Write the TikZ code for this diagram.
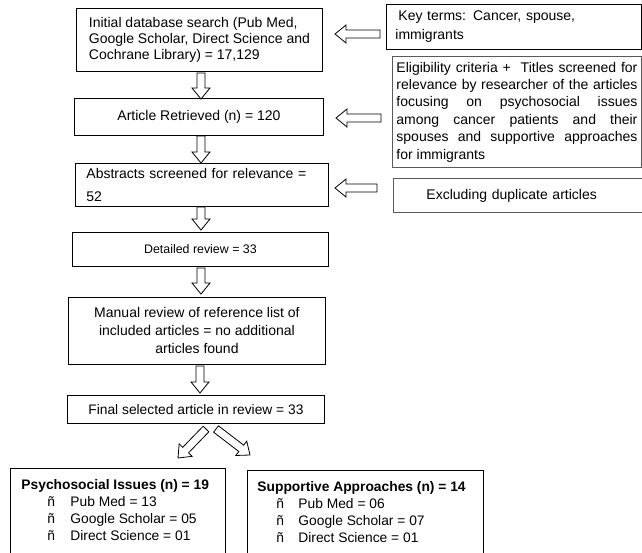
\documentclass[tikz,border=0pt]{standalone}
\usepackage{fontspec}
\setmainfont{Liberation Sans}
\usetikzlibrary{calc}
\tikzset{
  box/.style={draw=black, line width=0.9pt, fill=white, inner sep=0pt, anchor=north west,
    font=\fontsize{14}{16}\selectfont},
  graybox/.style={box, draw=black!65},
  barrow/.style={draw=black, line width=0.8pt, fill=white, line join=miter},
}
\newcommand\blockarr[2]{%
  \coordinate (bap) at ($(#2)!11pt!(#1)$);
  \draw[barrow] ($(#1)!4pt!90:(#2)$) -- ($(bap)!4pt!90:(#2)$) -- ($(bap)!9pt!90:(#2)$)
    -- (#2) -- ($(bap)!9pt!-90:(#2)$) -- ($(bap)!4pt!-90:(#2)$) -- ($(#1)!4pt!-90:(#2)$) -- cycle;}
\begin{document}
\begin{tikzpicture}[x=1pt,y=-1pt]
\useasboundingbox (0,0) rectangle (642,552);
\clip (0,0) rectangle (642,552);

% main column
\node[box, minimum width=246pt, minimum height=63pt, align=left] (b1) at (76,8)
  {Initial database search (Pub Med,\\ Google Scholar, Direct Science and\\ Cochrane Library) = 17,129};
\node[box, minimum width=249pt, minimum height=37pt, align=center] (b2) at (74,98)
  {Article Retrieved (n) = 120};
\node[box, minimum width=253pt, minimum height=43pt, text width=231pt, align=left] (b3) at (75,163)
  {Abstracts screened for relevance =\\[7pt]52};
\node[box, minimum width=256pt, minimum height=34pt, align=center, font=\fontsize{12.4}{15}\selectfont] (b4) at (72,232)
  {Detailed review = 33};
\node[box, minimum width=257pt, minimum height=67pt, align=center, font=\fontsize{14}{18}\selectfont] (b5) at (68,297)
  {Manual review of reference list of\\ included articles = no additional\\ articles found};
\node[box, minimum width=257pt, minimum height=28pt, align=center, font=\fontsize{13.8}{16}\selectfont] (b6) at (67,395)
  {Final selected article in review = 33};

% bottom boxes
\node[box, minimum width=215pt, inner ysep=9pt] (b7) at (10,468)
  {\parbox[c][100pt][t]{193pt}{\fontsize{13.8}{17}\selectfont\strut\textbf{Psychosocial Issues (n) = 19}\\
   \hspace*{26pt}\makebox[23pt][l]{ñ}Pub Med = 13\\
   \hspace*{26pt}\makebox[23pt][l]{ñ}Google Scholar = 05\\
   \hspace*{26pt}\makebox[23pt][l]{ñ}Direct Science = 01}};
\node[box, minimum width=236pt, inner ysep=9pt] (b8) at (247,470)
  {\parbox[c][100pt][t]{216pt}{\fontsize{13.8}{17}\selectfont\strut\textbf{Supportive Approaches (n) = 14}\\
   \hspace*{19pt}\makebox[22pt][l]{ñ}Pub Med = 06\\
   \hspace*{19pt}\makebox[22pt][l]{ñ}Google Scholar = 07\\
   \hspace*{19pt}\makebox[22pt][l]{ñ}Direct Science = 01}};

% right column
\node[box, minimum width=255pt, minimum height=45pt, text width=237pt, align=left, font=\fontsize{14}{19}\selectfont] (k) at (386,4)
  {\hspace*{3pt}Key terms: Cancer, spouse,\\immigrants};
\node[graybox, minimum width=249pt, minimum height=111pt, text width=241pt, align=justify, font=\fontsize{14}{17.4}\selectfont] (e) at (392,56)
  {Eligibility criteria +\ \ Titles screened for\linebreak relevance by researcher of the articles\linebreak focusing on psychosocial issues\linebreak among cancer patients and their\linebreak spouses and supportive approaches\linebreak for immigrants};
\node[graybox, minimum width=249pt, minimum height=34pt, text width=229pt, align=left] (x) at (393,178)
  {\hspace*{23pt}Excluding duplicate articles};

% arrow end points
\coordinate (d1s) at (201,73);  \coordinate (d1e) at (201,99);
\coordinate (d2s) at (201,136); \coordinate (d2e) at (201,163);
\coordinate (d3s) at (201,207); \coordinate (d3e) at (201,230);
\coordinate (d4s) at (201,268); \coordinate (d4e) at (201,294);
\coordinate (d5s) at (200,366); \coordinate (d5e) at (200,393);
\coordinate (l1s) at (380,34);  \coordinate (l1e) at (335,34);
\coordinate (l2s) at (381,118); \coordinate (l2e) at (336,118);
\coordinate (l3s) at (377,188); \coordinate (l3e) at (335,188);
\coordinate (g1s) at (206,429); \coordinate (g1e) at (178,458);
\coordinate (g2s) at (216,429); \coordinate (g2e) at (250,455);

\blockarr{d1s}{d1e}
\blockarr{d2s}{d2e}
\blockarr{d3s}{d3e}
\blockarr{d4s}{d4e}
\blockarr{d5s}{d5e}
\blockarr{l1s}{l1e}
\blockarr{l2s}{l2e}
\blockarr{l3s}{l3e}
\blockarr{g1s}{g1e}
\blockarr{g2s}{g2e}
\end{tikzpicture}
\end{document}
